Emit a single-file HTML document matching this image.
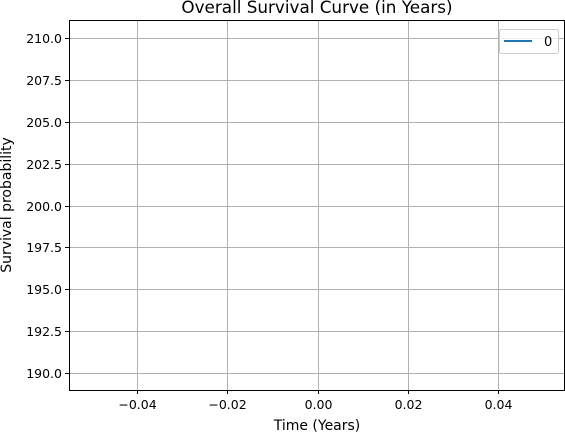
<!DOCTYPE html>
<html><head><meta charset="utf-8"><style>
html,body{margin:0;padding:0;background:#fff;}
svg text{font-family:"DejaVu Sans","Liberation Sans",sans-serif;}
</style></head><body>
<svg id="chart" width="565" height="433" xmlns="http://www.w3.org/2000/svg">
<rect x="0" y="0" width="565" height="433" fill="#fff"/>
<text x="317" y="13" font-size="16.8" text-anchor="middle" fill="#000">Overall Survival Curve (in Years)</text>
<g id="grid"></g>
<g id="xticks"></g>
<g id="yticks"></g>
<g id="series"></g>
<rect x="69.5" y="20.5" width="495" height="370" fill="none" stroke="#000" stroke-width="1"/>
<text x="317" y="430" font-size="14" text-anchor="middle">Time (Years)</text>
<text transform="translate(11,205) rotate(-90)" font-size="14" text-anchor="middle">Survival probability</text>
<g>
<rect x="499.5" y="29.5" width="59" height="24" rx="2" fill="#fff" fill-opacity="0.8" stroke="#ccc"/>
<line x1="504" y1="41" x2="532" y2="41" stroke="#1f77b4" stroke-width="2"/>
<text x="544" y="46" font-size="13">0</text>
</g>
</svg>
<script>
const times = [0];
const survival = [200];
const xTickValues = [-0.04, -0.02, 0.00, 0.02, 0.04];
const xTickLabels = ["\u22120.04", "\u22120.02", "0.00", "0.02", "0.04"];
const yTickValues = [190, 192.5, 195, 197.5, 200, 202.5, 205, 207.5, 210];
const yTickLabels = ["190.0","192.5","195.0","197.5","200.0","202.5","205.0","207.5","210.0"];

const NS = "http://www.w3.org/2000/svg";
function xs(v){ return 317.5 + v * (90.25/0.02); }
function ys(v){ return 205.5 - (v - 200) * (41.875/2.5); }
function mk(tag, attrs, parent){ const e=document.createElementNS(NS,tag); for(const k in attrs) e.setAttribute(k,attrs[k]); parent.appendChild(e); return e; }
const grid=document.getElementById('grid'), xt=document.getElementById('xticks'), yt=document.getElementById('yticks'), ser=document.getElementById('series');
xTickValues.forEach((v,i)=>{
  const x=Math.round(xs(v))+0.5;
  const g=mk('line',{x1:x,y1:20,x2:x,y2:390,stroke:'#b0b0b0','stroke-width':1},grid);
  
  
  mk('line',{x1:x,y1:390,x2:x,y2:394,stroke:'#000'},xt);
  const t=mk('text',{x:x,y:409,'font-size':12.5,'text-anchor':'middle'},xt);
  t.textContent=xTickLabels[i];
  
  
});
yTickValues.forEach((v,i)=>{
  const y=Math.round(ys(v))+0.5;
  const g=mk('line',{x1:69,y1:y,x2:564,y2:y,stroke:'#b0b0b0','stroke-width':1},grid);
  
  
  mk('line',{x1:65,y1:y,x2:69,y2:y,stroke:'#000'},yt);
  const t=mk('text',{x:62,y:y+4.5,'font-size':12.5,'text-anchor':'end'},yt);
  t.textContent=yTickLabels[i];
  
  
});
const pts=times.map((t,i)=>xs(t)+','+ys(survival[i])).join(' ');
const pl=mk('polyline',{points:pts,fill:'none',stroke:'#1f77b4','stroke-width':1.5},ser);


</script>
</body></html>
